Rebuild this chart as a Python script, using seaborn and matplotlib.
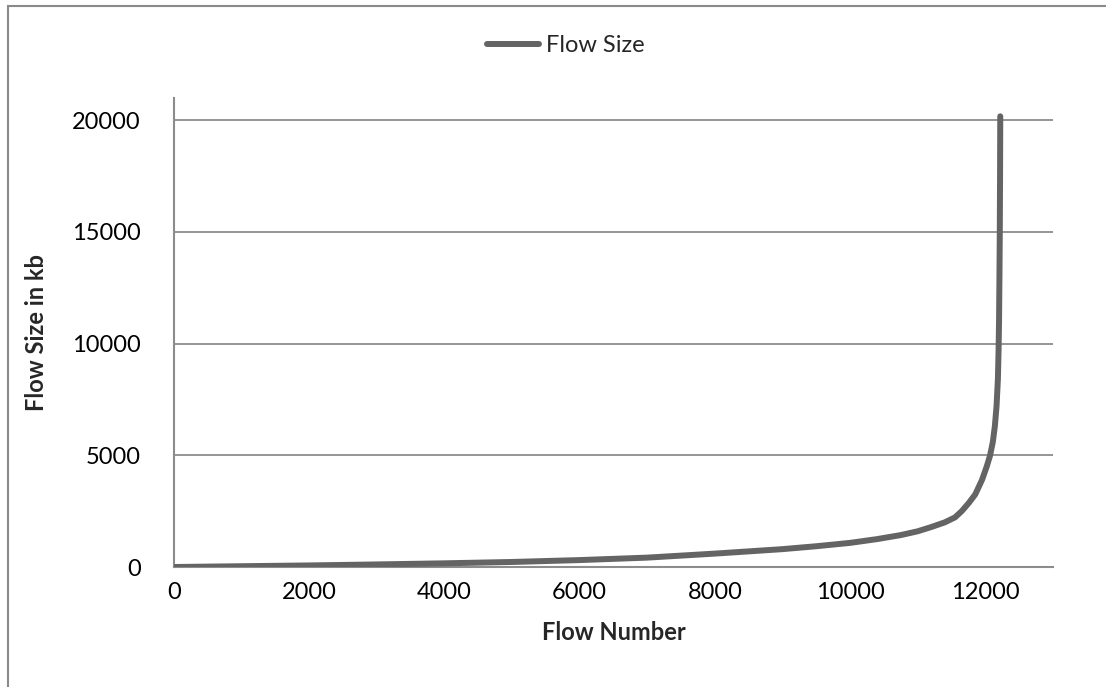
import matplotlib
matplotlib.use("Agg")
import matplotlib.pyplot as plt
from matplotlib.patches import Rectangle
import pandas as pd
import seaborn as sns

# Flow number vs. flow size (kb), sorted ascending
flow_number = [0, 1000, 2000, 3000, 4000, 5000, 6000, 7000, 8000, 9000,
               9500, 10000, 10400, 10750, 11000, 11200, 11400, 11550, 11650,
               11750, 11850, 11950, 12020, 12070, 12110, 12140, 12165, 12185,
               12195, 12202, 12208, 12213, 12217, 12220]
flow_size = [0, 35, 70, 115, 165, 225, 310, 420, 600, 800,
             930, 1080, 1250, 1430, 1600, 1790, 2000, 2220, 2500,
             2850, 3250, 3900, 4500, 5000, 5600, 6300, 7200, 8400,
             9700, 11000, 13000, 15000, 17500, 20180]

series_name = "Flow Size"
x_label = "Flow Number"
y_label = "Flow Size in kb"
x_ticks = [0, 2000, 4000, 6000, 8000, 10000, 12000]
y_ticks = [0, 5000, 10000, 15000, 20000]

df = pd.DataFrame({x_label: flow_number, y_label: flow_size,
                   "series": series_name})

sns.set_style("white")
plt.rcParams["font.family"] = ["Lato", "DejaVu Sans"]

W, H = 1106, 687
fig = plt.figure(figsize=(W / 100, H / 100), dpi=100)
ax = fig.add_axes([174 / W, 1 - 567 / H, 879 / W, 469 / H])

grid_c = "#8c8c8c"
line_c = "#646464"
lw = 4.3

sns.lineplot(data=df, x=x_label, y=y_label, hue="series",
             palette=[line_c], linewidth=lw, ax=ax, legend=False,
             solid_capstyle="round", solid_joinstyle="round", zorder=3)

ax.set_xlim(0, 13000)
ax.set_ylim(0, 21000)
ax.set_xticks(x_ticks)
ax.set_yticks(y_ticks)
ax.yaxis.grid(True, color=grid_c, linewidth=1.3)
ax.xaxis.grid(False)
ax.tick_params(axis="both", length=0, labelsize=17, colors="black")
ax.tick_params(axis="y", pad=24)
ax.tick_params(axis="x", pad=11)

for side in ("top", "right"):
    ax.spines[side].set_visible(False)
for side in ("left", "bottom"):
    ax.spines[side].set_color(grid_c)
    ax.spines[side].set_linewidth(1.5)

ax.set_xlabel(x_label, fontsize=17, fontweight="bold", labelpad=13)
ax.set_ylabel(y_label, fontsize=17, fontweight="bold", labelpad=17)

# Legend at top centre
handle = plt.Line2D([], [], color=line_c, linewidth=lw, solid_capstyle="round")
fig.legend([handle], [series_name], loc="center", bbox_to_anchor=(0.512, 0.934),
           frameon=False, fontsize=17, handlelength=2.2, handletextpad=0.3)

# Outer chart frame
fig.add_artist(Rectangle((7.5 / W, -0.05), 1.1, 1 - 5.5 / H + 0.05,
                         transform=fig.transFigure, fill=False,
                         edgecolor="#8a8a8a", linewidth=1.5))

fig.savefig("out.png", dpi=100, facecolor="white")
